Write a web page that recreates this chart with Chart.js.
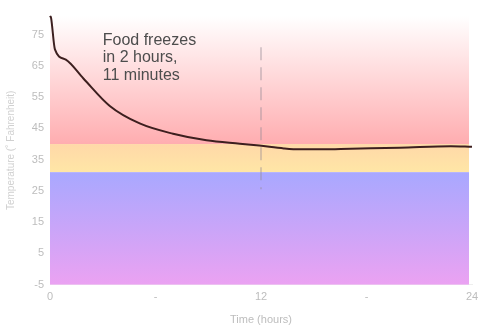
<!DOCTYPE html>
<html>
<head>
<meta charset="utf-8">
<script src="https://cdn.jsdelivr.net/npm/chart.js@4/dist/chart.umd.min.js"></script>
<style>
  html, body { margin: 0; padding: 0; background: #fff; }
  #wrap { width: 500px; height: 335px; }
</style>
</head>
<body>
<div id="wrap"><canvas id="freezeChart"></canvas></div>
<script>
// time in hours and temperature in degrees F
const hours = [0, 0.06, 0.28, 0.9, 1.9, 3.4, 5.1, 7.0, 8.9, 10.8, 11.9, 13.3, 14.2, 15.5, 17.1, 19.9, 22.8, 24];
const temps = [81, 80.4, 70.3, 67.0, 61.0, 52.2, 46.6, 43.3, 41.2, 40.1, 39.5, 38.6, 38.3, 38.3, 38.5, 38.8, 39.3, 39.1];

const yTicks = [-5, 5, 15, 25, 35, 45, 55, 65, 75];
const xTicks = [0, 6, 12, 18, 24];
const xTickLabels = ['0', '-', '12', '-', '24'];

// temperature zones: top edge of the chart down to -5
const zoneEdges = [81, 40, 31, -5];
const freezeMarker = { hour: 12, from: 71, to: 25.5 };
const noteLines = ['Food freezes', 'in 2 hours,', '11 minutes'];
const noteAt = { hour: 3, temp: 71.8 };

const tickColor = '#bdbdbd';

const backdrop = {
    id: 'backdrop',
    beforeDatasetsDraw(chart) {
        const { ctx, chartArea, scales } = chart;
        const y = scales.y;
        const left = chartArea.left, width = chartArea.right - chartArea.left - 3;
        const y0 = y.getPixelForValue(zoneEdges[0]);
        const y1 = y.getPixelForValue(zoneEdges[1]);
        const y2 = y.getPixelForValue(zoneEdges[2]);
        const y3 = y.getPixelForValue(zoneEdges[3]);
        ctx.save();
        let g = ctx.createLinearGradient(0, y0, 0, y1);
        g.addColorStop(0, '#ffffff');
        g.addColorStop(1, '#ffadb0');
        ctx.fillStyle = g;
        ctx.fillRect(left, y0, width, y1 - y0);
        g = ctx.createLinearGradient(0, y1, 0, y2);
        g.addColorStop(0, '#ffd8a8');
        g.addColorStop(1, '#ffe6a6');
        ctx.fillStyle = g;
        ctx.fillRect(left, y1, width, y2 - y1);
        g = ctx.createLinearGradient(0, y2, 0, y3);
        g.addColorStop(0, '#a8a8ff');
        g.addColorStop(1, '#eba2f2');
        ctx.fillStyle = g;
        ctx.fillRect(left, y2, width, y3 - y2);

        // dashed marker at the freezing time
        const mx = scales.x.getPixelForValue(freezeMarker.hour);
        ctx.strokeStyle = 'rgba(150,140,150,0.5)';
        ctx.lineWidth = 1.5;
        ctx.setLineDash([13, 7]);
        ctx.beginPath();
        ctx.moveTo(mx, y.getPixelForValue(freezeMarker.from));
        ctx.lineTo(mx, y.getPixelForValue(freezeMarker.to));
        ctx.stroke();
        ctx.setLineDash([]);

        // note
        ctx.fillStyle = '#4d4d4d';
        ctx.font = '16px "Liberation Sans", Arial, sans-serif';
        ctx.textBaseline = 'alphabetic';
        const nx = scales.x.getPixelForValue(noteAt.hour);
        const ny = y.getPixelForValue(noteAt.temp);
        noteLines.forEach((t, i) => ctx.fillText(t, nx, ny + i * 17.5));
        ctx.restore();
    }
};

new Chart(document.getElementById('freezeChart'), {
    type: 'line',
    data: {
        datasets: [{
            data: hours.map((h, i) => ({ x: h, y: temps[i] })),
            borderColor: '#3d1f1f',
            borderWidth: 2,
            pointRadius: 0,
            cubicInterpolationMode: 'monotone',
            fill: false,
            clip: 4
        }]
    },
    options: {
        responsive: true,
        maintainAspectRatio: false,
        animation: false,
        layout: { padding: { top: 16, right: 28, bottom: 8, left: 0 } },
        plugins: { legend: { display: false }, tooltip: { enabled: false } },
        scales: {
            x: {
                type: 'linear',
                min: 0,
                max: 24,
                afterBuildTicks: axis => { axis.ticks = xTicks.map(v => ({ value: v })); },
                grid: { display: false, drawTicks: false },
                border: { color: '#eeeeee' },
                ticks: {
                    color: tickColor,
                    font: { family: 'Liberation Sans', size: 11 },
                    padding: 6,
                    maxRotation: 0,
                    callback: (v) => xTickLabels[xTicks.indexOf(v)]
                },
                title: {
                    display: true,
                    text: 'Time (hours)',
                    color: tickColor,
                    font: { family: 'Liberation Sans', size: 11 },
                    padding: { top: 4, bottom: 0 }
                }
            },
            y: {
                min: -5,
                max: 81,
                afterBuildTicks: axis => { axis.ticks = yTicks.map(v => ({ value: v })); },
                afterFit: axis => { axis.width = 50; },
                grid: { display: false, drawTicks: false },
                border: { color: '#eeeeee' },
                ticks: {
                    color: tickColor,
                    font: { family: 'Liberation Sans', size: 11 },
                    padding: 6
                },
                title: {
                    display: true,
                    text: 'Temperature (˚ Fahrenheit)',
                    color: '#d0d0d0',
                    font: { family: 'Liberation Sans', size: 10 },
                    padding: { top: 5, bottom: 0 }
                }
            }
        }
    },
    plugins: [backdrop]
});
</script>
</body>
</html>
